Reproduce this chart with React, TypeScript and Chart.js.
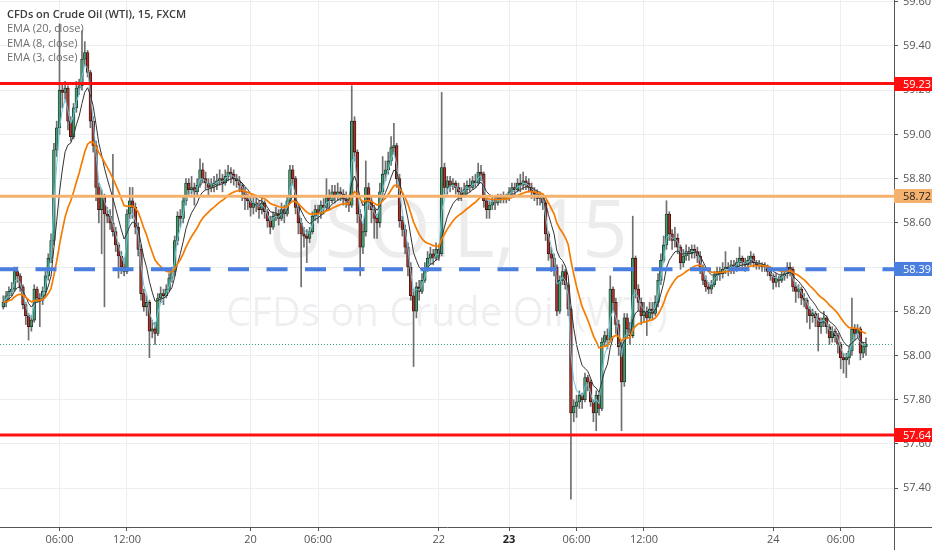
import React, { useEffect, useRef } from 'react';
import { Chart, registerables } from 'chart.js';

Chart.register(...registerables);

// ---------------- DATA ----------------
const FIRST_OPEN = 58.22;

const CLOSE = [
  58.24, 58.27, 58.29, 58.30, 58.38, 58.36, 58.31, 58.23, 58.18, 58.13,
  58.16, 58.30, 58.26, 58.25, 58.29, 58.36, 58.44, 58.52, 58.93, 59.03,
  59.20, 59.19, 59.21, 59.06, 58.99, 59.12, 59.21, 59.22, 59.34, 59.37,
  59.28, 59.06, 58.95, 58.76, 58.66, 58.72, 58.64, 58.63, 58.60, 58.56,
  58.50, 58.45, 58.40, 58.38, 58.64, 58.70, 58.67, 58.58, 58.48, 58.28,
  58.22, 58.24, 58.11, 58.12, 58.10, 58.26, 58.28, 58.27, 58.30, 58.35,
  58.38, 58.52, 58.63, 58.62, 58.70, 58.78, 58.75, 58.76, 58.74, 58.77,
  58.84, 58.80, 58.78, 58.76, 58.78, 58.77, 58.79, 58.80, 58.78, 58.81,
  58.83, 58.82, 58.80, 58.79, 58.77, 58.74, 58.71, 58.70, 58.67, 58.69,
  58.68, 58.66, 58.69, 58.65, 58.61, 58.58, 58.63, 58.64, 58.62, 58.66,
  58.64, 58.70, 58.84, 58.80, 58.67, 58.60, 58.55, 58.54, 58.53, 58.56,
  58.63, 58.66, 58.64, 58.68, 58.67, 58.72, 58.70, 58.74, 58.72, 58.74,
  58.73, 58.71, 58.70, 58.68, 59.06, 58.92, 58.64, 58.49, 58.56, 58.76,
  58.70, 58.66, 58.62, 58.60, 58.74, 58.82, 58.84, 58.88, 58.94, 58.95,
  58.80, 58.61, 58.57, 58.49, 58.40, 58.27, 58.20, 58.31, 58.29, 58.34,
  58.39, 58.44, 58.46, 58.44, 58.48, 58.46, 58.85, 58.76, 58.79, 58.77,
  58.78, 58.76, 58.74, 58.72, 58.75, 58.77, 58.76, 58.79, 58.78, 58.83,
  58.82, 58.70, 58.66, 58.68, 58.70, 58.69, 58.71, 58.71, 58.72, 58.71,
  58.74, 58.76, 58.75, 58.78, 58.77, 58.79, 58.78, 58.76, 58.74, 58.73,
  58.71, 58.72, 58.69, 58.55, 58.46, 58.44, 58.40, 58.20, 58.34, 58.38,
  58.32, 58.21, 57.74, 57.77, 57.79, 57.82, 57.80, 57.90, 57.88, 57.79,
  57.74, 57.82, 57.76, 58.06, 58.09, 58.07, 58.30, 58.24, 58.14, 58.04,
  57.88, 58.17, 58.12, 58.09, 58.44, 58.30, 58.24, 58.18, 58.20, 58.17,
  58.21, 58.19, 58.24, 58.34, 58.43, 58.50, 58.64, 58.55, 58.52, 58.53,
  58.49, 58.42, 58.45, 58.47, 58.46, 58.48, 58.47, 58.45, 58.40, 58.34,
  58.31, 58.30, 58.32, 58.36, 58.38, 58.37, 58.39, 58.40, 58.39, 58.41,
  58.40, 58.42, 58.44, 58.42, 58.41, 58.43, 58.45, 58.42, 58.41, 58.41,
  58.40, 58.40, 58.38, 58.36, 58.33, 58.35, 58.34, 58.36, 58.37, 58.40,
  58.39, 58.31, 58.29, 58.30, 58.26, 58.25, 58.21, 58.18, 58.19, 58.17,
  58.13, 58.15, 58.17, 58.13, 58.08, 58.11, 58.09, 58.05, 57.99, 57.98,
  57.99, 58.02, 58.12, 58.10, 58.12, 58.01, 58.04, 58.05,
];

const HIGH = [
  58.27, 58.29, 58.31, 58.33, 58.40, 58.40, 58.37, 58.32, 58.24, 58.19,
  58.18, 58.32, 58.31, 58.28, 58.31, 58.38, 58.46, 58.55, 58.96, 59.06,
  59.50, 59.23, 59.24, 59.22, 59.08, 59.14, 59.24, 59.25, 59.47, 59.42,
  59.38, 59.29, 59.08, 58.97, 58.78, 58.75, 58.73, 58.67, 58.66, 58.91,
  58.58, 58.51, 58.47, 58.44, 58.66, 58.76, 58.76, 58.69, 58.60, 58.50,
  58.30, 58.27, 58.25, 58.16, 58.15, 58.28, 58.31, 58.30, 58.32, 58.37,
  58.40, 58.54, 58.65, 58.66, 58.72, 58.80, 58.80, 58.81, 58.78, 58.80,
  58.89, 58.87, 58.83, 58.80, 58.80, 58.81, 58.82, 58.84, 58.82, 58.84,
  58.86, 58.85, 58.84, 58.82, 58.81, 58.78, 58.76, 58.73, 58.72, 58.72,
  58.71, 58.70, 58.72, 58.70, 58.66, 58.63, 58.65, 58.67, 58.66, 58.69,
  58.68, 58.72, 58.86, 58.86, 58.81, 58.69, 58.62, 58.58, 58.57, 58.58,
  58.65, 58.68, 58.68, 58.70, 58.71, 58.80, 58.75, 58.77, 58.77, 58.78,
  58.76, 58.75, 58.74, 58.72, 59.22, 59.08, 58.93, 58.66, 58.60, 58.88,
  58.78, 58.72, 58.68, 58.64, 58.78, 58.90, 58.88, 58.92, 58.99, 59.05,
  58.96, 58.82, 58.63, 58.59, 58.51, 58.42, 58.30, 58.33, 58.34, 58.37,
  58.42, 58.47, 58.49, 58.48, 58.51, 58.50, 59.19, 58.87, 58.81, 58.81,
  58.80, 58.79, 58.78, 58.76, 58.78, 58.79, 58.80, 58.81, 58.82, 58.87,
  58.86, 58.83, 58.72, 58.70, 58.72, 58.72, 58.73, 58.73, 58.74, 58.73,
  58.76, 58.78, 58.78, 58.80, 58.82, 58.83, 58.81, 58.80, 58.78, 58.76,
  58.75, 58.74, 58.73, 58.70, 58.56, 58.49, 58.46, 58.41, 58.36, 58.41,
  58.39, 58.33, 58.22, 57.80, 57.82, 57.84, 57.83, 57.92, 57.91, 57.89,
  57.80, 57.84, 57.83, 58.08, 58.11, 58.12, 58.36, 58.31, 58.26, 58.16,
  58.06, 58.19, 58.19, 58.15, 58.63, 58.45, 58.32, 58.26, 58.24, 58.22,
  58.24, 58.24, 58.27, 58.37, 58.46, 58.54, 58.70, 58.65, 58.57, 58.58,
  58.55, 58.50, 58.48, 58.50, 58.49, 58.50, 58.50, 58.49, 58.47, 58.41,
  58.36, 58.33, 58.34, 58.38, 58.40, 58.40, 58.42, 58.47, 58.42, 58.43,
  58.43, 58.44, 58.49, 58.45, 58.44, 58.45, 58.47, 58.46, 58.43, 58.43,
  58.42, 58.42, 58.41, 58.40, 58.37, 58.37, 58.36, 58.38, 58.39, 58.42,
  58.42, 58.40, 58.33, 58.32, 58.31, 58.28, 58.26, 58.22, 58.21, 58.20,
  58.19, 58.17, 58.20, 58.18, 58.14, 58.13, 58.12, 58.10, 58.06, 58.01,
  58.01, 58.04, 58.26, 58.14, 58.14, 58.13, 58.06, 58.08,
];

const LOW = [
  58.21, 58.22, 58.25, 58.27, 58.29, 58.33, 58.29, 58.21, 58.14, 58.07,
  58.11, 58.15, 58.24, 58.13, 58.23, 58.27, 58.34, 58.42, 58.50, 58.90,
  59.00, 59.12, 59.16, 59.02, 58.97, 58.98, 59.10, 59.18, 59.20, 59.31,
  59.26, 59.03, 58.92, 58.70, 58.60, 58.46, 58.22, 58.60, 58.57, 58.54,
  58.47, 58.35, 58.37, 58.36, 58.37, 58.62, 58.62, 58.55, 58.45, 58.25,
  58.20, 58.18, 57.99, 58.08, 58.05, 58.09, 58.24, 58.23, 58.26, 58.29,
  58.33, 58.36, 58.50, 58.58, 58.60, 58.68, 58.72, 58.73, 58.68, 58.72,
  58.76, 58.78, 58.75, 58.72, 58.74, 58.74, 58.75, 58.77, 58.74, 58.77,
  58.79, 58.78, 58.77, 58.76, 58.74, 58.70, 58.66, 58.66, 58.63, 58.64,
  58.65, 58.62, 58.64, 58.62, 58.58, 58.55, 58.57, 58.61, 58.59, 58.61,
  58.60, 58.63, 58.69, 58.77, 58.64, 58.55, 58.31, 58.49, 58.42, 58.51,
  58.55, 58.61, 58.60, 58.62, 58.64, 58.66, 58.66, 58.69, 58.69, 58.70,
  58.70, 58.68, 58.67, 58.65, 58.67, 58.88, 58.60, 58.36, 58.46, 58.54,
  58.66, 58.60, 58.53, 58.53, 58.58, 58.72, 58.79, 58.82, 58.86, 58.91,
  58.76, 58.58, 58.54, 58.46, 58.36, 58.25, 57.95, 58.17, 58.25, 58.28,
  58.33, 58.38, 58.41, 58.41, 58.43, 58.43, 58.45, 58.73, 58.73, 58.74,
  58.75, 58.73, 58.70, 58.70, 58.72, 58.73, 58.74, 58.75, 58.76, 58.77,
  58.79, 58.67, 58.62, 58.62, 58.66, 58.66, 58.68, 58.69, 58.69, 58.69,
  58.70, 58.72, 58.72, 58.74, 58.74, 58.75, 58.75, 58.74, 58.71, 58.70,
  58.68, 58.68, 58.66, 58.52, 58.43, 58.38, 58.36, 58.18, 58.19, 58.32,
  58.30, 58.18, 57.35, 57.70, 57.72, 57.76, 57.76, 57.79, 57.84, 57.77,
  57.70, 57.66, 57.73, 57.75, 58.04, 58.03, 58.06, 58.20, 58.10, 58.00,
  57.66, 57.86, 58.08, 58.05, 58.08, 58.26, 58.20, 58.14, 58.15, 58.09,
  58.16, 58.16, 58.18, 58.22, 58.32, 58.42, 58.48, 58.52, 58.48, 58.49,
  58.46, 58.39, 58.40, 58.43, 58.43, 58.44, 58.44, 58.42, 58.37, 58.32,
  58.29, 58.28, 58.28, 58.31, 58.34, 58.34, 58.35, 58.37, 58.36, 58.37,
  58.37, 58.38, 58.40, 58.39, 58.38, 58.39, 58.41, 58.40, 58.39, 58.39,
  58.38, 58.38, 58.36, 58.34, 58.30, 58.31, 58.31, 58.33, 58.34, 58.35,
  58.36, 58.29, 58.24, 58.26, 58.23, 58.22, 58.15, 58.12, 58.15, 58.13,
  58.02, 58.10, 58.13, 58.10, 58.05, 58.06, 58.06, 58.01, 57.94, 57.92,
  57.90, 57.96, 58.00, 58.07, 58.08, 57.98, 57.99, 58.00,
];

const X_TICK_INDEX = [20, 44, 88, 112, 155, 180, 204, 228, 274, 298];
const X_TICK_LABELS = ['06:00', '12:00', '20', '06:00', '22', '23', '06:00', '12:00', '24', '06:00'];
const Y_TICKS = [57.4, 57.6, 57.8, 58.0, 58.2, 58.4, 58.6, 58.8, 59.0, 59.2, 59.4, 59.6];

const EMA_PERIODS = [20, 8, 3];
const LEVEL_VALUES = [59.23, 58.72, 58.39, 57.64];
const LAST_PRICE = 58.05;

// ---------------- STYLES ----------------
const LEVEL_STYLES = [
  { color: '#ff1010', text: '#ffffff', width: 3, dash: [] as number[] },
  { color: '#f5b26e', text: '#222222', width: 3, dash: [] as number[] },
  { color: '#4a7fe0', text: '#ffffff', width: 4, dash: [21, 17.5] },
  { color: '#ff1010', text: '#ffffff', width: 3, dash: [] as number[] },
];
const EMA_STYLES = [
  { color: '#f57c00', width: 1.7 },
  { color: '#333333', width: 1 },
  { color: '#6cc7de', width: 1 },
];
const FONT = "'Open Sans', 'Noto Sans', sans-serif";

function ema(values: number[], n: number): number[] {
  const k = 2 / (n + 1);
  let e = values[0];
  return values.map((v, i) => {
    if (i === 0) return e;
    e = v * k + e * (1 - k);
    return e;
  });
}

const overlayPlugin = {
  id: 'overlayLevels',
  afterDatasetsDraw(chart: any) {
    const { ctx, chartArea: a } = chart;
    const y = chart.scales.y;
    ctx.save();
    ctx.beginPath();
    ctx.rect(a.left, a.top, a.right - a.left, a.bottom - a.top);
    ctx.clip();
    const yl = Math.round(y.getPixelForValue(LAST_PRICE)) + 0.5;
    ctx.setLineDash([1, 2]);
    ctx.strokeStyle = '#3f9c7c';
    ctx.lineWidth = 1;
    ctx.beginPath();
    ctx.moveTo(a.left, yl);
    ctx.lineTo(a.right, yl);
    ctx.stroke();
    LEVEL_VALUES.forEach((v, i) => {
      const s = LEVEL_STYLES[i];
      const py = y.getPixelForValue(v);
      ctx.setLineDash(s.dash);
      ctx.lineDashOffset = s.dash.length ? 3 : 0;
      ctx.strokeStyle = s.color;
      ctx.lineWidth = s.width;
      ctx.beginPath();
      ctx.moveTo(a.left, py);
      ctx.lineTo(a.right, py);
      ctx.stroke();
    });
    ctx.restore();
  },
  afterDraw(chart: any) {
    const { ctx, chartArea: a, width, height } = chart;
    const y = chart.scales.y;
    ctx.save();
    ctx.strokeStyle = '#555';
    ctx.lineWidth = 1;
    ctx.beginPath();
    ctx.moveTo(Math.round(a.right) + 0.5, a.bottom);
    ctx.lineTo(Math.round(a.right) + 0.5, height);
    ctx.moveTo(a.right, Math.round(a.bottom) + 0.5);
    ctx.lineTo(width, Math.round(a.bottom) + 0.5);
    ctx.stroke();
    ctx.font = `11px ${FONT}`;
    ctx.textBaseline = 'middle';
    ctx.textAlign = 'left';
    LEVEL_VALUES.forEach((v, i) => {
      const s = LEVEL_STYLES[i];
      const py = y.getPixelForValue(v);
      ctx.fillStyle = s.color;
      ctx.fillRect(a.right, Math.round(py) - 7, width - a.right, 14);
      ctx.fillStyle = s.text;
      ctx.fillText(v.toFixed(2), a.right + 9, Math.round(py) + 0.5);
    });
    ctx.restore();
  },
};

export default function App() {
  const ref = useRef<HTMLCanvasElement>(null);

  useEffect(() => {
    if (!ref.current) return;
    Chart.defaults.font.family = FONT;
    const opens = CLOSE.map((c, i) => (i === 0 ? FIRST_OPEN : CLOSE[i - 1]));
    const bodies = CLOSE.map((c, i) => ({ x: i, y: [opens[i], c] }));
    const wicks = CLOSE.map((c, i) => ({
      x: i,
      y: [Math.min(LOW[i], opens[i], c), Math.max(HIGH[i], opens[i], c)],
    }));
    const up = CLOSE.map((c, i) => c >= opens[i]);

    const emaSets = EMA_PERIODS.map((p, k) => {
      const vals = ema(CLOSE, p);
      return {
        type: 'line' as const,
        label: `EMA ${p}`,
        data: vals.map((v, i) => ({ x: i, y: v })),
        borderColor: EMA_STYLES[k].color,
        borderWidth: EMA_STYLES[k].width,
        pointRadius: 0,
        fill: false,
        tension: 0,
        order: k,
      };
    });

    const XMIN = -1.174;
    const XMAX = 316.97;

    const chart = new Chart(ref.current, {
      type: 'bar',
      data: {
        datasets: [
          ...emaSets,
          {
            type: 'bar',
            label: 'bodies',
            data: bodies as any,
            backgroundColor: up.map((u) => (u ? '#4a9b75' : '#a3372f')),
            borderColor: up.map((u) => (u ? '#143826' : '#3a0d09')),
            borderWidth: 0.8,
            borderSkipped: false,
            barThickness: 2.8,
            minBarLength: 1,
            grouped: false,
            order: 5,
          } as any,
          {
            type: 'bar',
            label: 'wicks',
            data: wicks as any,
            backgroundColor: '#6f6f6f',
            borderWidth: 0,
            barThickness: 1,
            grouped: false,
            order: 6,
          } as any,
        ],
      },
      options: {
        animation: false,
        responsive: false,
        maintainAspectRatio: false,
        events: [],
        layout: { padding: 0 },
        plugins: { legend: { display: false }, tooltip: { enabled: false } },
        scales: {
          x: {
            type: 'linear',
            min: XMIN,
            max: XMAX,
            offset: false,
            grid: { color: '#eceff2', lineWidth: 1, offset: false, drawTicks: true, tickLength: 4, tickColor: '#555' },
            border: { color: '#555', width: 1 },
            ticks: {
              autoSkip: false,
              maxRotation: 0,
              padding: 2,
              color: (c: any) => (c.index === 5 ? '#222' : '#555'),
              font: (c: any) => ({ size: 11, weight: c.index === 5 ? 'bold' : 'normal' }),
              callback: (_v: any, i: number) => X_TICK_LABELS[i],
            },
            afterBuildTicks: (s: any) => {
              s.ticks = X_TICK_INDEX.map((v) => ({ value: v }));
            },
            afterFit: (s: any) => {
              s.height = 23;
              s.paddingLeft = 0;
              s.paddingRight = 0;
            },
          } as any,
          y: {
            type: 'linear',
            position: 'right',
            min: 57.224,
            max: 59.608,
            grid: { color: '#eceff2', lineWidth: 1, drawTicks: true, tickLength: 4, tickColor: '#555' },
            border: { color: '#555', width: 1 },
            ticks: {
              padding: 5,
              color: '#555',
              font: { size: 11 },
              callback: (v: any) => Number(v).toFixed(2),
            },
            afterBuildTicks: (s: any) => {
              s.ticks = Y_TICKS.map((v) => ({ value: v }));
            },
            afterFit: (s: any) => {
              s.width = 38;
              s.paddingTop = 0;
              s.paddingBottom = 0;
            },
          } as any,
        },
      },
      plugins: [overlayPlugin],
    });
    return () => chart.destroy();
  }, []);

  return (
    <div
      style={{
        position: 'fixed',
        left: 0,
        top: 0,
        width: 932,
        height: 550,
        background: '#ffffff',
        overflow: 'hidden',
        fontFamily: FONT,
      }}
    >
      <div
        style={{
          position: 'absolute',
          left: 0,
          width: 894,
          top: 186,
          textAlign: 'center',
          fontSize: 80,
          lineHeight: '80px',
          color: 'rgba(0,0,0,0.075)',
          whiteSpace: 'nowrap',
        }}
      >
        USOIL, 15
      </div>
      <div
        style={{
          position: 'absolute',
          left: 0,
          width: 894,
          top: 291,
          textAlign: 'center',
          fontSize: 40,
          lineHeight: '40px',
          color: 'rgba(0,0,0,0.075)',
          whiteSpace: 'nowrap',
        }}
      >
        CFDs on Crude Oil (WTI)
      </div>
      <canvas ref={ref} width={932} height={550} style={{ position: 'absolute', left: 0, top: 0 }} />
      <div
        style={{
          position: 'absolute',
          left: 7,
          top: 7,
          fontSize: 11,
          lineHeight: '14.3px',
          color: '#6e6e6e',
          whiteSpace: 'nowrap',
        }}
      >
        <div style={{ color: '#3a3a3a', fontWeight: 600 }}>CFDs on Crude Oil (WTI), 15, FXCM</div>
        <div>EMA (20, close)</div>
        <div>EMA (8, close)</div>
        <div>EMA (3, close)</div>
      </div>
    </div>
  );
}
